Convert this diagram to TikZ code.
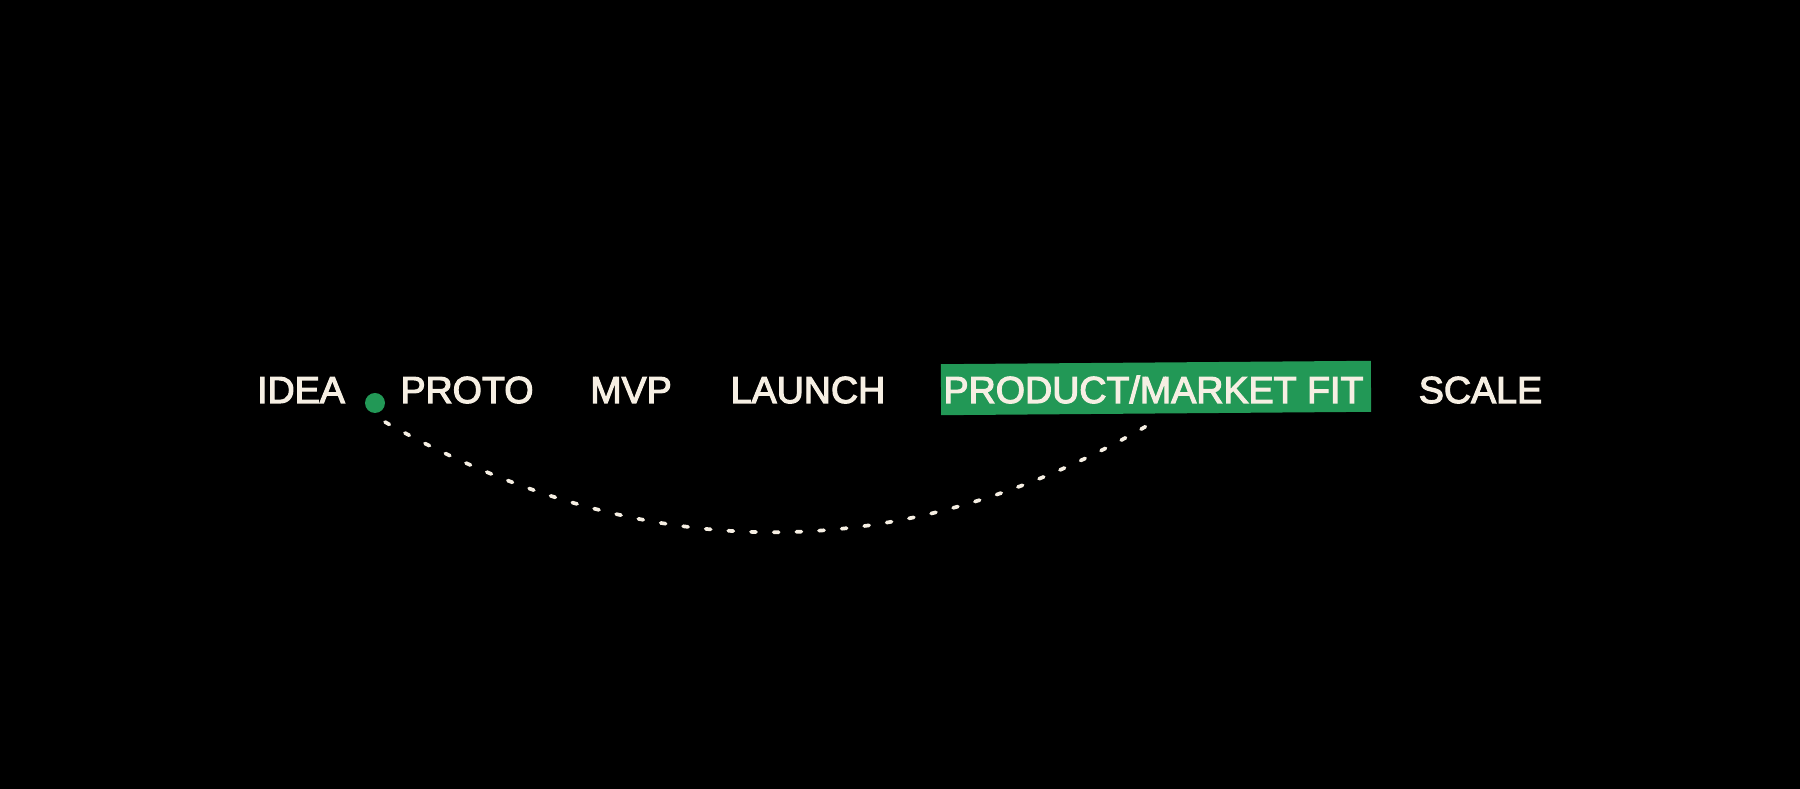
\documentclass[tikz,border=0pt]{standalone}
\usepackage{fontspec}
\setmainfont{Liberation Sans}
\newfontfamily\stagefont[FakeBold=3]{Liberation Sans}
\definecolor{cream}{HTML}{F6EFE3}
\definecolor{fitgreen}{HTML}{229856}
\tikzstyle{stage}=[text=cream,font=\stagefont\fontsize{10.7}{13}\selectfont,inner sep=0pt,anchor=base]
\tikzstyle{highlight}=[fill=fitgreen,minimum width=4.3cm,minimum height=0.51cm,inner sep=0pt,rotate=0.45]
\tikzstyle{marker}=[circle,fill=fitgreen,minimum size=0.2cm,inner sep=0pt]
\tikzstyle{journey}=[draw=cream,line width=1.05pt,line cap=round,dash pattern=on 0.05cm off 0.177cm]

\begin{document}
\begin{tikzpicture}
    \useasboundingbox[fill=black] (0,0) rectangle (18,-7.89);

    \node[highlight] (box) at (11.56,-3.88) {};

    \foreach \pos/\name/\label in {{(3.01,-4.03)/idea/IDEA}, {(4.67,-4.03)/proto/PROTO}, {(6.31,-4.03)/mvp/MVP}, {(8.08,-4.03)/launch/LAUNCH}, {(11.535,-4.03)/pmf/{PRODUCT/MARKET FIT}}, {(14.805,-4.03)/scale/SCALE}}
        \node[stage] (\name) at \pos {\label};

    \node[marker] (dot) at (3.75,-4.03) {};

    \coordinate (arcL) at ([shift={(0.1,-0.19)}]dot.center);
    \coordinate (arcR) at ([yshift=-0.19cm]pmf.base);
    \path[journey] (arcL) .. controls +(2.6,-1.47) and +(-2.5,-1.47) .. (arcR);
\end{tikzpicture}
\end{document}
